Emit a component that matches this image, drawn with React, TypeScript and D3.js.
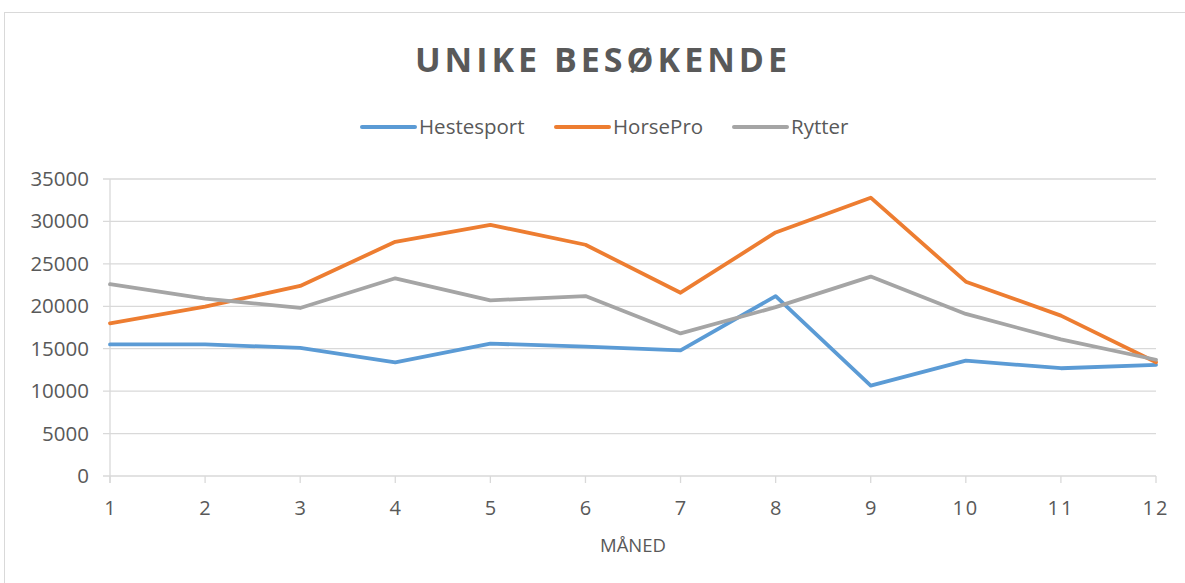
import React from "react";
import * as d3 from "d3";

const months = [1, 2, 3, 4, 5, 6, 7, 8, 9, 10, 11, 12];
const hestesport = [15500, 15500, 15100, 13400, 15600, 15250, 14800, 21200, 10650, 13600, 12700, 13100];
const horsePro = [18000, 19950, 22400, 27600, 29600, 27250, 21600, 28700, 32800, 22900, 18900, 13400];
const rytter = [22600, 20900, 19800, 23300, 20700, 21200, 16800, 19900, 23500, 19100, 16100, 13700];
const yTicks = [0, 5000, 10000, 15000, 20000, 25000, 30000, 35000];
const seriesNames = ["Hestesport", "HorsePro", "Rytter"];
const seriesColors = ["#5B9BD5", "#ED7D31", "#A5A5A5"];

const W = 1185;
const H = 583;
const FONT = "'Open Sans', 'Noto Sans', sans-serif";
const TEXT = "#595959";
const GRID = "#D9D9D9";

export default function App() {
  const x = d3.scaleLinear().domain([1, 12]).range([110, 1156]);
  const y = d3.scaleLinear().domain([0, 35000]).range([476, 179]);
  const line = d3
    .line<number>()
    .x((_, i) => x(months[i]))
    .y((d) => y(d));
  const all = [hestesport, horsePro, rytter];
  const legendX = [362, 556, 734];

  return (
    <svg
      width={W}
      height={H}
      style={{ position: "absolute", left: 0, top: 0, background: "#fff" }}
    >
      <rect x={4.5} y={12.5} width={1200} height={600} fill="#fff" stroke={GRID} strokeWidth={1} />
      <text
        x={603}
        y={72}
        textAnchor="middle"
        fontFamily={FONT}
        fontWeight={700}
        fontSize={34}
        letterSpacing={4}
        fill={TEXT}
      >
        UNIKE BESØKENDE
      </text>
      {seriesNames.map((n, i) => (
        <g key={n}>
          <line
            x1={legendX[i]}
            x2={legendX[i] + 53}
            y1={127}
            y2={127}
            stroke={seriesColors[i]}
            strokeWidth={4}
            strokeLinecap="round"
          />
          <text
            x={legendX[i] + 57}
            y={134}
            fontFamily={FONT}
            fontSize={20.5}
            fill={TEXT}
          >
            {n}
          </text>
        </g>
      ))}
      {yTicks.map((t) => (
        <g key={t}>
          <line x1={103} x2={1156} y1={y(t)} y2={y(t)} stroke={GRID} strokeWidth={1.3} />
          <text
            x={89}
            y={y(t) + 7}
            textAnchor="end"
            fontFamily={FONT}
            fontSize={20.5}
            fill={TEXT}
          >
            {t}
          </text>
        </g>
      ))}
      <line x1={110} x2={110} y1={179} y2={483} stroke={GRID} strokeWidth={1.3} />
      {months.map((m) => (
        <g key={m}>
          <line x1={x(m)} x2={x(m)} y1={476} y2={483} stroke={GRID} strokeWidth={1.3} />
          <text
            x={x(m)}
            y={515}
            textAnchor="middle"
            fontFamily={FONT}
            fontSize={20}
            letterSpacing={m >= 10 ? 2 : 0}
            fill={TEXT}
          >
            {m}
          </text>
        </g>
      ))}
      <text x={633} y={552} textAnchor="middle" fontFamily={FONT} fontSize={18.5} fill={TEXT}>
        MÅNED
      </text>
      {all.map((s, i) => (
        <path
          key={i}
          d={line(s) || ""}
          fill="none"
          stroke={seriesColors[i]}
          strokeWidth={3.8}
          strokeLinejoin="round"
          strokeLinecap="round"
        />
      ))}
    </svg>
  );
}
